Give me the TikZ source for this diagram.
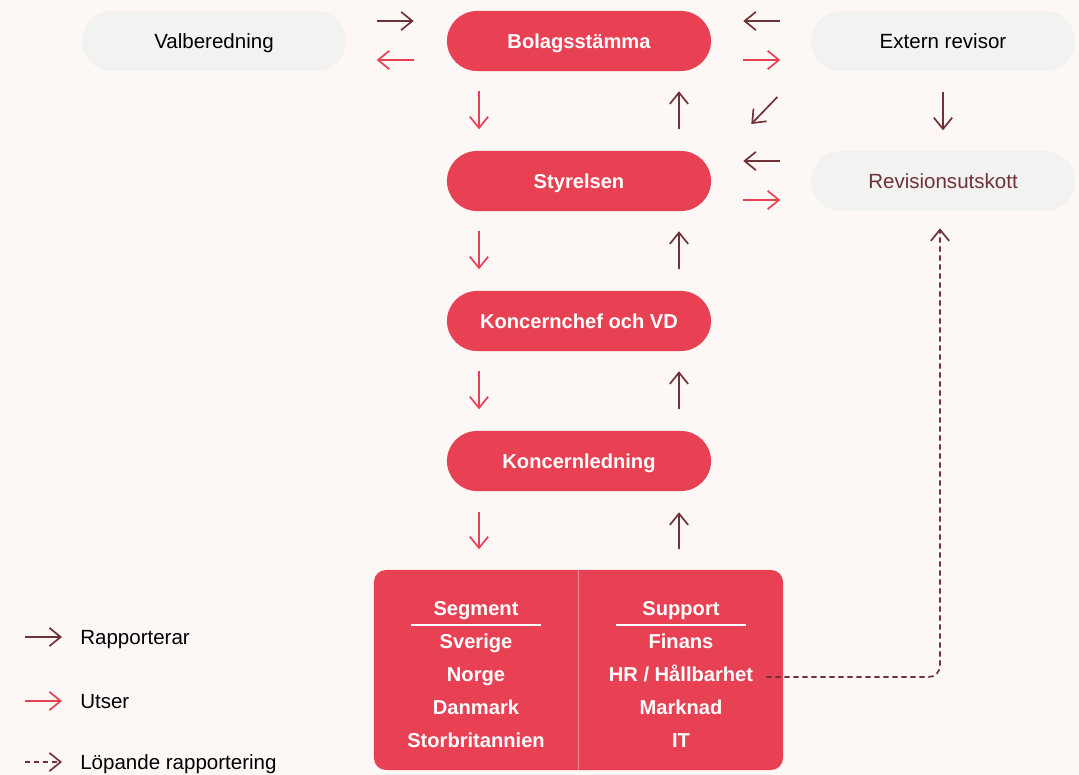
\documentclass[tikz,border=0pt]{standalone}
\usepackage{fontspec}
\setmainfont{Liberation Sans}
\usetikzlibrary{arrows.meta,calc}

\definecolor{brandred}{RGB}{232,65,83}
\definecolor{darkline}{RGB}{110,50,55}
\definecolor{pagebg}{RGB}{253,248,246}
\definecolor{pillgrey}{RGB}{242,242,240}
\definecolor{divline}{RGB}{242,140,150}

\tikzset{
  pillred/.style={fill=brandred, text=white, font=\fontsize{14.3}{17}\selectfont\bfseries,
    rounded corners=0.75cm, minimum width=6.6cm, minimum height=1.5cm, inner sep=0pt,
    text height=12.3pt, text depth=1.5pt},
  pillgray/.style={pillred, fill=pillgrey, text=black, font=\fontsize{14.6}{17}\selectfont},
  boxtxt/.style={text=white, font=\fontsize{14.3}{17}\selectfont\bfseries, inner sep=0pt,
    text height=12.3pt, text depth=1.5pt},
  legtxt/.style={anchor=west, font=\fontsize{14.6}{17}\selectfont, inner sep=0pt,
    text height=12.3pt, text depth=1.5pt},
  rep/.style={draw=darkline, line width=1.2pt},
  uts/.style={draw=brandred, line width=1.2pt},
  runrep/.style={rep, dash pattern=on 3.8pt off 2.6pt},
}

\begin{document}
\begin{tikzpicture}[x=0.025cm, y=-0.025cm, >={Straight Barb[length=8pt,width=13pt]}]

\fill[pagebg] (0,0) rectangle (1079,775);
\useasboundingbox (0,0) rectangle (1079,775);

% main chain
\node[pillred] (bolag) at (579,41) {Bolagsstämma};
\node[pillred] (styr) at (579,181) {Styrelsen};
\node[pillred] (vd) at (579,321) {Koncernchef och VD};
\node[pillred] (kled) at (579,461) {Koncernledning};

% side pills
\node[pillgray] (valb) at (214,41) {Valberedning};
\node[pillgray] (ext) at (943,41) {Extern revisor};
\node[pillgray, text=darkline] (revu) at (943,181) {Revisionsutskott};

% segment / support box
\node[fill=brandred, rounded corners=0.3cm, minimum width=10.225cm, minimum height=5cm, inner sep=0pt] (box) at (578.5,670) {};
\draw[divline, line width=0.6pt] (box.north) -- (box.south);

\node[boxtxt] (seg) at (476,608) {Segment};
\draw[white, line width=0.9pt] ([shift={(-65,17)}]seg.center) -- ++(130,0);
\node[boxtxt] (sve) at (476,641) {Sverige};
\node[boxtxt] (nor) at (476,674) {Norge};
\node[boxtxt] (dan) at (476,707) {Danmark};
\node[boxtxt] (sto) at (476,740) {Storbritannien};

\node[boxtxt] (sup) at (681,608) {Support};
\draw[white, line width=0.9pt] ([shift={(-65,17)}]sup.center) -- ++(130,0);
\node[boxtxt] (fin) at (681,641) {Finans};
\node[boxtxt] (hr) at (681,674) {HR / Hållbarhet};
\node[boxtxt] (mark) at (681,707) {Marknad};
\node[boxtxt] (it) at (681,740) {IT};

% arrows round Bolagsstämma
\draw[rep,->] ([shift={(-70,-20)}]bolag.west) -- ++(37,0);
\draw[uts,<-] ([shift={(-70,19)}]bolag.west) -- ++(37,0);
\draw[rep,->] ([shift={(69,-20)}]bolag.east) -- ++(-37,0);
\draw[uts,->] ([shift={(32,19)}]bolag.east) -- ++(37,0);
\draw[rep,->] ([shift={(66,56)}]bolag.east) -- ++(-26,27);

% arrows round Styrelsen
\draw[rep,->] ([shift={(69,-20)}]styr.east) -- ++(-37,0);
\draw[uts,->] ([shift={(32,19)}]styr.east) -- ++(37,0);
\draw[rep,->] ([shift={(0,21)}]ext.south) -- ++(0,38);

% down and up between the levels
\draw[uts,->] ([shift={(-100,20)}]bolag.south) -- ++(0,38);
\draw[rep,->] ([shift={(100,58)}]bolag.south) -- ++(0,-38);
\draw[uts,->] ([shift={(-100,20)}]styr.south) -- ++(0,38);
\draw[rep,->] ([shift={(100,58)}]styr.south) -- ++(0,-38);
\draw[uts,->] ([shift={(-100,20)}]vd.south) -- ++(0,38);
\draw[rep,->] ([shift={(100,58)}]vd.south) -- ++(0,-38);
\draw[uts,->] ([shift={(-100,21)}]kled.south) -- ++(0,37);
\draw[rep,->] ([shift={(100,58)}]kled.south) -- ++(0,-37);

% running reporting
\draw[runrep,->,rounded corners=8] ([shift={(13,3)}]hr.east) -| ([shift={(-3,17)}]revu.south);

% legend
\node[legtxt] (lrap) at (80,637) {Rapporterar};
\node[legtxt] (luts) at (80,701) {Utser};
\node[legtxt] (llop) at (80,762) {Löpande rapportering};
\draw[rep,->] ([shift={(-55,0)}]lrap.west) -- ++(37,0);
\draw[uts,->] ([shift={(-55,0)}]luts.west) -- ++(37,0);
\draw[runrep,->] ([shift={(-55,0)}]llop.west) -- ++(37,0);

\end{tikzpicture}
\end{document}
